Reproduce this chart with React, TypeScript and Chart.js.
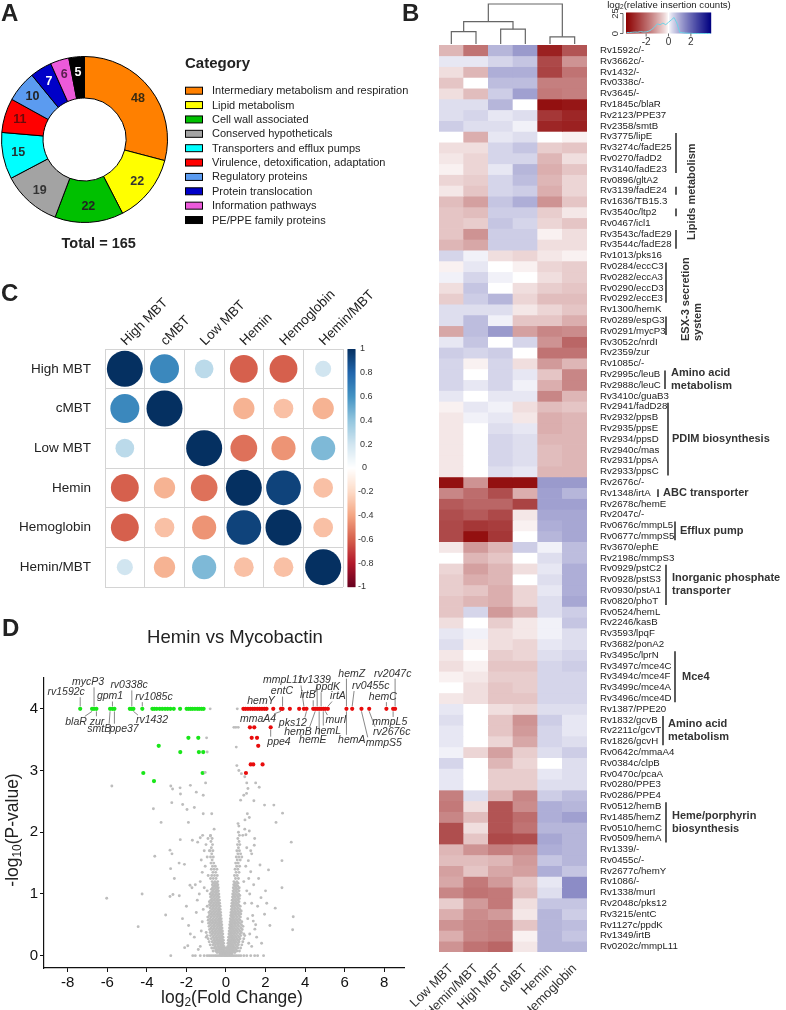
import React, { useEffect, useRef } from "react";
import { Chart, registerables } from "chart.js";

Chart.register(...registerables);

const FONT = "'Liberation Sans', Arial, Helvetica, sans-serif";

/* ---------------- Panel A data ---------------- */
const categoryNames = [
  "Intermediary metabolism and respiration",
  "Lipid metabolism",
  "Cell wall associated",
  "Conserved hypotheticals",
  "Transporters and efflux pumps",
  "Virulence, detoxification, adaptation",
  "Regulatory proteins",
  "Protein translocation",
  "Information pathways",
  "PE/PPE family proteins",
];
const categoryCounts = [48, 22, 22, 19, 15, 11, 10, 7, 6, 5];
const categoryColors = ["#ff8000", "#ffff00", "#00c000", "#a3a3a3", "#00ffff", "#ff0000", "#5b9bf0", "#0000c8", "#ec5ada", "#000000"];
const categoryLabelColors = ["#3a2a10", "#333333", "#222222", "#333333", "#223333", "#6a0a0a", "#222222", "#ffffff", "#5a2050", "#ffffff"];

/* ---------------- Panel B data ---------------- */
const heatColumns = ["Low MBT", "Hemin/MBT", "High MBT", "cMBT", "Hemin", "Hemoglobin"];
const heatGenes = [
  "Rv1592c/-", "Rv3662c/-", "Rv1432/-", "Rv0338c/-", "Rv3645/-", "Rv1845c/blaR", "Rv2123/PPE37", "Rv2358/smtB",
  "Rv3775/lipE", "Rv3274c/fadE25", "Rv0270/fadD2", "Rv3140/fadE23", "Rv0896/gltA2", "Rv3139/fadE24", "Rv1636/TB15.3", "Rv3540c/ltp2", "Rv0467/icl1", "Rv3543c/fadE29", "Rv3544c/fadE28",
  "Rv1013/pks16", "Rv0284/eccC3", "Rv0282/eccA3", "Rv0290/eccD3", "Rv0292/eccE3", "Rv1300/hemK", "Rv0289/espG3", "Rv0291/mycP3", "Rv3052c/nrdI", "Rv2359/zur", "Rv1085c/-", "Rv2995c/leuB", "Rv2988c/leuC", "Rv3410c/guaB3",
  "Rv2941/fadD28", "Rv2932/ppsB", "Rv2935/ppsE", "Rv2934/ppsD", "Rv2940c/mas", "Rv2931/ppsA", "Rv2933/ppsC",
  "Rv2676c/-", "Rv1348/irtA", "Rv2678c/hemE", "Rv2047c/-", "Rv0676c/mmpL5", "Rv0677c/mmpS5", "Rv3670/ephE", "Rv2198c/mmpS3",
  "Rv0929/pstC2", "Rv0928/pstS3", "Rv0930/pstA1", "Rv0820/phoT", "Rv0524/hemL", "Rv2246/kasB", "Rv3593/lpqF", "Rv3682/ponA2",
  "Rv3495c/lprN", "Rv3497c/mce4C", "Rv3494c/mce4F", "Rv3499c/mce4A", "Rv3496c/mce4D", "Rv1387/PPE20", "Rv1832/gcvB", "Rv2211c/gcvT", "Rv1826/gcvH",
  "Rv0642c/mmaA4", "Rv0384c/clpB", "Rv0470c/pcaA", "Rv0280/PPE3", "Rv0286/PPE4", "Rv0512/hemB", "Rv1485/hemZ", "Rv0510/hemC", "Rv0509/hemA",
  "Rv1339/-", "Rv0455c/-", "Rv2677c/hemY", "Rv1086/-", "Rv1338/murI", "Rv2048c/pks12", "Rv3215/entC", "Rv1127c/ppdK", "Rv1349/irtB", "Rv0202c/mmpL11",
];
// log2(relative insertion counts), columns follow heatColumns
const heatValues = [
  [-0.8, -1.8, 0.8, 1.2, -3.2, -2.3],
  [0.2, 0.2, 0.4, 0.6, -2.5, -1.3],
  [-0.3, -0.8, 0.9, 0.9, -2.6, -1.8],
  [-0.6, 0.0, 0.7, 0.7, -1.6, -1.6],
  [-0.3, -0.7, 0.5, 1.1, -1.7, -1.6],
  [0.3, 0.3, 0.8, 0.0, -3.5, -3.4],
  [0.3, 0.4, 0.2, 0.3, -2.8, -3.1],
  [0.5, 0.3, 0.3, 0.1, -3.1, -3.2],
  [0.0, -0.9, 0.2, 0.3, 0.0, -0.1],
  [-0.3, -0.3, 0.4, 0.6, -0.5, -0.6],
  [-0.2, -0.4, 0.4, 0.4, -0.8, -0.3],
  [-0.1, -0.4, 0.2, 0.8, -0.9, -0.6],
  [-0.4, -0.5, 0.4, 0.7, -0.8, -0.4],
  [-0.2, -0.6, 0.4, 0.5, -0.9, -0.4],
  [-0.7, -1.1, 0.6, 0.9, -1.3, -0.6],
  [-0.6, -0.7, 0.5, 0.5, -0.5, -0.2],
  [-0.6, -0.5, 0.6, 0.4, -0.4, -0.6],
  [-0.6, -1.3, 0.5, 0.5, -0.1, -0.3],
  [-0.8, -1.0, 0.5, 0.5, -0.3, -0.3],
  [0.4, 0.1, -0.3, -0.4, -0.2, -0.1],
  [-0.1, 0.2, 0.0, -0.1, -0.4, -0.5],
  [0.1, 0.4, 0.1, 0.0, -0.3, -0.5],
  [-0.3, 0.6, 0.0, -0.3, -0.5, -0.6],
  [-0.5, 0.5, 0.8, -0.4, -0.7, -0.7],
  [0.3, 0.3, 0.3, -0.2, -0.4, -0.6],
  [0.3, 0.7, 0.1, -0.6, -0.6, -0.9],
  [-1.0, 0.7, 1.2, -1.1, -1.5, -1.4],
  [0.2, 0.6, 0.0, 0.4, -1.3, -2.0],
  [0.5, 0.4, 0.5, 0.0, -1.8, -1.8],
  [0.4, -0.1, 0.4, -0.3, -1.2, -0.8],
  [0.4, 0.0, 0.4, 0.2, -0.6, -1.5],
  [0.4, 0.2, 0.4, 0.1, -0.9, -1.5],
  [0.2, 0.0, 0.2, 0.2, -1.5, -0.8],
  [-0.1, 0.2, 0.1, -0.3, -0.7, -0.6],
  [-0.2, 0.1, 0.2, -0.2, -0.9, -0.8],
  [-0.2, 0.0, 0.3, 0.2, -0.9, -0.8],
  [-0.2, 0.0, 0.4, 0.3, -0.8, -0.8],
  [-0.2, 0.0, 0.4, 0.3, -0.7, -0.8],
  [-0.2, 0.0, 0.4, 0.3, -0.7, -0.8],
  [-0.2, 0.0, 0.3, 0.2, -0.8, -0.8],
  [-3.5, -1.3, -3.5, -3.5, 1.2, 1.2],
  [-1.5, -1.9, -2.4, -0.9, 1.1, 0.8],
  [-2.2, -2.0, -2.0, -2.6, 1.1, 1.1],
  [-2.4, -2.2, -2.5, -0.2, 1.0, 1.0],
  [-2.5, -2.8, -2.7, -0.1, 0.9, 1.0],
  [-2.5, -3.5, -2.8, 0.0, 0.8, 1.0],
  [-0.2, -1.2, -0.8, 0.5, 0.1, 0.7],
  [0.0, -0.8, -0.6, 0.0, 0.3, 0.7],
  [-0.4, -1.1, -0.8, -0.3, 0.2, 0.9],
  [-0.5, -0.9, -0.8, 0.0, 0.3, 0.9],
  [-0.5, -0.6, -0.9, -0.4, 0.2, 0.9],
  [-0.6, -0.8, -0.9, -0.4, 0.3, 1.0],
  [-0.6, 0.4, -1.2, -0.8, 0.3, 0.5],
  [-0.3, 0.0, -0.5, -0.2, 0.1, 0.6],
  [0.2, 0.1, -0.3, -0.2, 0.1, 0.3],
  [0.3, -0.1, -0.3, -0.4, 0.2, 0.3],
  [-0.2, 0.0, -0.5, -0.4, 0.3, 0.4],
  [-0.3, -0.1, -0.6, -0.6, 0.4, 0.5],
  [-0.1, -0.2, -0.5, -0.5, 0.4, 0.4],
  [0.0, -0.3, -0.6, -0.5, 0.4, 0.4],
  [-0.2, -0.3, -0.6, -0.6, 0.4, 0.4],
  [0.2, 0.0, -0.3, -0.4, 0.3, 0.3],
  [0.3, 0.0, -0.6, -1.3, 0.5, 0.2],
  [0.2, 0.0, -0.6, -1.2, 0.4, 0.2],
  [0.2, 0.0, -0.4, -1.0, 0.4, 0.3],
  [0.1, -0.4, -1.1, -0.5, 0.3, 0.5],
  [0.4, 0.0, -0.8, -0.4, 0.0, 0.3],
  [0.2, 0.0, -0.5, -0.5, 0.2, 0.3],
  [0.2, 0.0, -0.5, -0.5, 0.3, 0.3],
  [-1.6, 0.3, -0.8, -1.5, 0.5, 0.7],
  [-1.7, -0.3, -2.3, -1.4, 0.9, 0.8],
  [-1.5, -0.7, -2.3, -1.9, 0.9, 1.1],
  [-2.4, -0.3, -2.3, -1.8, 0.8, 0.8],
  [-2.4, -0.6, -2.5, -2.4, 1.0, 0.8],
  [-0.8, -1.3, -1.6, -1.4, 0.9, 0.8],
  [-0.7, -0.7, -0.8, -1.2, 0.6, 0.8],
  [-1.1, -0.6, -1.0, -1.1, 0.9, 0.6],
  [-1.0, -1.7, -1.2, -0.6, 0.2, 1.4],
  [-1.5, -1.8, -1.7, -0.7, 0.3, 1.4],
  [-0.5, -1.2, -1.7, -0.3, 0.6, 0.6],
  [-0.9, -1.4, -1.2, -0.2, 0.8, 0.5],
  [-1.3, -1.5, -1.6, -0.6, 0.8, 0.7],
  [-0.9, -1.5, -1.6, -0.1, 0.8, 0.6],
  [-1.3, -1.8, -2.0, -0.2, 0.8, 0.8],
];
// histogram of all values shown in the colour key (bins from -3.75 to 3.75, step 0.25)
const histogramCounts = [1.2, 1.2, 1.5, 1.8, 1.6, 2.4, 1.8, 2.0, 3, 5, 8, 12, 11, 13, 11, 14, 17, 20, 13, 1.5, 1, 0.5, 0.3, 0.2, 0, 0, 0, 0, 0, 0, 0];
// column dendrogram: leaves 0..5, internal nodes 6..10
const dendroNodes = [
  { left: 0, right: 1, height: 0.31 },
  { left: 2, right: 3, height: 0.37 },
  { left: 4, right: 5, height: 0.18 },
  { left: 6, right: 7, height: 0.56 },
  { left: 9, right: 8, height: 1.0 },
];
const heatGroups = [
  { lines: ["Lipids metabolism"], rows: [[8, 11], [13, 13], [15, 15], [17, 18]], rotated: true },
  { lines: ["ESX-3 secretion", "system"], rows: [[20, 23], [25, 26]], rotated: true },
  { lines: ["Amino acid", "metabolism"], rows: [[30, 31]], rotated: false },
  { lines: ["PDIM biosynthesis"], rows: [[33, 39]], rotated: false },
  { lines: ["ABC transporter"], rows: [[41, 41]], rotated: false },
  { lines: ["Efflux pump"], rows: [[44, 45]], rotated: false },
  { lines: ["Inorganic phosphate", "transporter"], rows: [[48, 51]], rotated: false },
  { lines: ["Mce4"], rows: [[56, 60]], rotated: false },
  { lines: ["Amino acid", "metabolism"], rows: [[62, 64]], rotated: false },
  { lines: ["Heme/porphyrin", "biosynthesis"], rows: [[70, 73]], rotated: false },
];
// layout of the bracket annotations (absolute page x of bar / text)
const heatGroupLayout = [
  { barX: 676, textX: 692, startY: 240 },
  { barX: 666, textX: 686, startY: 341, lineGap: 12 },
  { barX: 665, textX: 671 },
  { barX: 668, textX: 672 },
  { barX: 658, textX: 663 },
  { barX: 675, textX: 680 },
  { barX: 666, textX: 672 },
  { barX: 675, textX: 682 },
  { barX: 663, textX: 668 },
  { barX: 666, textX: 672 },
];

/* ---------------- Panel C data ---------------- */
const corrLabels = ["High MBT", "cMBT", "Low MBT", "Hemin", "Hemoglobin", "Hemin/MBT"];
const corrMatrix = [
  [1.0, 0.65, 0.27, -0.6, -0.6, 0.2],
  [0.65, 1.0, 0.0, -0.35, -0.3, -0.35],
  [0.27, 0.0, 1.0, -0.55, -0.45, 0.45],
  [-0.6, -0.35, -0.55, 1.0, 0.93, -0.3],
  [-0.6, -0.3, -0.45, 0.93, 1.0, -0.3],
  [0.2, -0.35, 0.45, -0.3, -0.3, 1.0],
];
const corrTicks = [1, 0.8, 0.6, 0.4, 0.2, 0, -0.2, -0.4, -0.6, -0.8, -1];
const RDBU = ["#67001F", "#B2182B", "#D6604D", "#F4A582", "#FDDBC7", "#FFFFFF", "#D1E5F0", "#92C5DE", "#4393C3", "#2166AC", "#053061"];

/* ---------------- Panel D data ---------------- */
const volcanoXTicks = [-8, -6, -4, -2, 0, 2, 4, 6, 8];
const volcanoYTicks = [0, 1, 2, 3, 4];
// dense non-significant genes, grouped by -log10(P) level: [level, log2FC values]
const grayBands: [number, number[]][] = [
  [0.0, [-1.55, -1.3, -1.1, -0.95, -0.85, -0.75, -0.65, -0.55, -0.48, -0.4, -0.32, -0.25, -0.18, -0.1, -0.04, 0.02, 0.08, 0.15, 0.22, 0.3, 0.38, 0.46, 0.55, 0.65, 0.75, 0.9, 1.05, 1.25, 1.45]],
  [0.03, [-0.3, -0.2, -0.12, -0.06, 0.0, 0.06, 0.12, 0.2, 0.3]],
  [0.05, [-0.45, -0.33, -0.22, -0.12, -0.04, 0.04, 0.12, 0.22, 0.33, 0.45]],
  [0.075, [-0.65, -0.52, -0.44, -0.32, -0.22, -0.14, -0.05, 0.03, 0.11, 0.2, 0.31, 0.42, 0.55, 0.68]],
  [0.1, [-0.5, -0.38, -0.27, -0.17, -0.08, 0.07, 0.16, 0.26, 0.37, 0.5]],
  [0.125, [-0.72, -0.6, -0.48, -0.36, -0.25, -0.15, -0.06, 0.05, 0.14, 0.24, 0.35, 0.47, 0.6, 0.74]],
  [0.15, [-0.55, -0.42, -0.3, -0.2, -0.1, 0.09, 0.19, 0.29, 0.4, 0.55]],
  [0.175, [-0.8, -0.66, -0.53, -0.4, -0.27, -0.16, 0.15, 0.25, 0.36, 0.49, 0.63, 0.8]],
  [0.2, [-0.6, -0.46, -0.33, -0.22, -0.12, 0.1, 0.21, 0.32, 0.44, 0.6]],
  [0.225, [-0.85, -0.7, -0.55, -0.41, -0.29, -0.18, 0.16, 0.27, 0.39, 0.52, 0.66, 0.85]],
  [0.25, [-0.62, -0.48, -0.35, -0.24, -0.13, 0.12, 0.23, 0.34, 0.47, 0.63]],
  [0.275, [-0.9, -0.74, -0.58, -0.44, -0.31, -0.2, 0.18, 0.3, 0.42, 0.56, 0.71, 0.9]],
  [0.3, [-0.66, -0.52, -0.38, -0.26, -0.15, 0.13, 0.25, 0.37, 0.5, 0.66]],
  [0.325, [-0.95, -0.78, -0.62, -0.47, -0.33, -0.22, 0.2, 0.31, 0.44, 0.59, 0.75, 0.95]],
  [0.35, [-0.7, -0.55, -0.41, -0.28, -0.16, 0.15, 0.27, 0.39, 0.53, 0.7]],
  [0.375, [-1.0, -0.8, -0.64, -0.49, -0.35, -0.23, 0.21, 0.33, 0.46, 0.61, 0.78]],
  [0.4, [-0.72, -0.57, -0.43, -0.3, -0.18, 0.16, 0.28, 0.41, 0.55, 0.72]],
  [0.425, [-0.83, -0.67, -0.52, -0.37, -0.25, 0.23, 0.35, 0.49, 0.64, 0.82]],
  [0.45, [-0.75, -0.6, -0.45, -0.32, -0.2, 0.18, 0.3, 0.43, 0.58, 0.75]],
  [0.475, [-0.86, -0.69, -0.54, -0.39, -0.27, 0.24, 0.37, 0.51, 0.67, 0.86]],
  [0.5, [-0.78, -0.62, -0.47, -0.34, -0.21, 0.19, 0.32, 0.45, 0.6, 0.78]],
  [0.525, [-0.88, -0.71, -0.56, -0.41, -0.28, 0.26, 0.39, 0.53, 0.69]],
  [0.55, [-0.8, -0.64, -0.49, -0.35, -0.23, 0.21, 0.33, 0.47, 0.62, 0.8]],
  [0.575, [-0.9, -0.73, -0.57, -0.42, -0.3, 0.27, 0.4, 0.55, 0.71]],
  [0.6, [-0.82, -0.66, -0.51, -0.37, -0.24, 0.22, 0.35, 0.49, 0.64]],
  [0.625, [-0.92, -0.75, -0.59, -0.44, -0.31, 0.29, 0.42, 0.57, 0.73]],
  [0.65, [-0.84, -0.68, -0.53, -0.38, -0.26, 0.24, 0.36, 0.5, 0.66]],
  [0.675, [-0.77, -0.61, -0.46, -0.33, 0.3, 0.44, 0.59, 0.75]],
  [0.7, [-0.86, -0.7, -0.55, -0.4, -0.27, 0.25, 0.38, 0.52, 0.68]],
  [0.725, [-0.79, -0.63, -0.48, -0.35, 0.32, 0.46, 0.61, 0.77]],
  [0.75, [-0.72, -0.57, -0.42, -0.29, 0.27, 0.4, 0.54, 0.7]],
  [0.775, [-0.81, -0.65, -0.5, -0.36, 0.33, 0.47, 0.62]],
  [0.8, [-0.74, -0.59, -0.44, -0.3, 0.28, 0.41, 0.56, 0.72]],
  [0.825, [-0.83, -0.67, -0.52, -0.38, 0.35, 0.49, 0.64]],
  [0.85, [-0.76, -0.6, -0.45, -0.32, 0.3, 0.43, 0.58]],
  [0.875, [-0.84, -0.69, -0.53, -0.39, 0.37, 0.51, 0.66]],
  [0.9, [-0.77, -0.62, -0.47, -0.33, 0.31, 0.45, 0.6]],
  [0.925, [-0.7, -0.55, -0.41, 0.38, 0.53, 0.68]],
  [0.95, [-0.78, -0.63, -0.48, -0.35, 0.33, 0.46, 0.62]],
  [0.975, [-0.72, -0.57, -0.42, 0.4, 0.55, 0.7]],
  [1.0, [-0.8, -0.65, -0.5, -0.36, 0.34, 0.48, 0.64]],
  [1.025, [-0.73, -0.58, -0.44, 0.41, 0.56]],
  [1.05, [-0.66, -0.51, -0.38, 0.36, 0.5, 0.66]],
  [1.075, [-0.74, -0.6, -0.45, 0.43, 0.58]],
  [1.1, [-0.68, -0.53, -0.39, 0.37, 0.51, 0.67]],
  [1.125, [-0.62, -0.47, 0.45, 0.6]],
  [1.15, [-0.69, -0.54, -0.41, 0.39, 0.53]],
  [1.175, [-0.63, -0.48, 0.46, 0.61]],
  [1.2, [-0.7, -0.56, -0.42, 0.4, 0.55]],
  [1.25, [-0.78, -0.64, -0.5, 0.48, 0.63]],
  [1.3, [-0.72, -0.58, -0.44, 0.43, 0.57]],
  [1.35, [-0.66, -0.52, 0.51, 0.66]],
  [1.4, [-0.74, -0.6, -0.46, 0.46, 0.6]],
  [1.45, [-0.68, -0.54, 0.54, 0.69]],
  [1.5, [-0.76, -0.62, 0.49, 0.62]],
  [1.55, [-0.7, 0.57, 0.72]],
  [1.6, [-0.78, -0.64, 0.52, 0.65]],
  [1.65, [-0.72, 0.6, 0.74]],
  [1.7, [-0.8, -0.66, 0.55, 0.68]],
  [1.75, [-0.74, 0.63]],
  [1.8, [-0.68, 0.58, 0.7]],
  [1.85, [-0.76, 0.66]],
  [1.9, [-0.7, 0.6]],
  [1.95, [-0.78, 0.68]],
  [2.0, [0.63]],
  [2.1, [0.65]],
];
const grayScattered: [number, number][] = [
  [-5.77, 2.75], [-2.79, 2.75], [-2.32, 2.72], [-1.8, 2.76], [-1.03, 2.8], [-3.67, 2.38], [-2.74, 2.48], [-2.19, 2.45], [-1.97, 2.37], [-1.6, 2.4],
  [-3.28, 2.16], [-1.9, 2.16], [-1.15, 2.3], [-0.72, 2.3], [-2.83, 1.71], [-2.73, 1.65], [-3.6, 1.61], [-2.37, 1.5], [-2.1, 1.48], [-2.8, 1.41],
  [-2.61, 1.25], [-2.31, 1.88], [-1.7, 1.87], [-1.43, 1.84], [-1.3, 1.91], [-1.18, 1.95], [-0.91, 1.9], [-0.79, 1.94], [-1.01, 1.8], [-0.84, 1.7],
  [-6.03, 0.93], [-4.24, 1.0], [-4.44, 0.47], [-3.05, 0.66], [-2.83, 0.96], [-2.68, 0.99], [-2.36, 0.97], [-1.82, 1.14], [-1.72, 1.1], [-1.89, 0.49],
  [-2.09, 0.13], [-1.93, 0.16], [-2.79, 0], [-1.68, 0],
  [0.61, 2.14], [0.96, 2.2], [1.08, 2.3], [1.18, 2.24], [1.04, 2.63], [1.11, 2.71], [0.74, 2.52], [1.68, 2.73], [1.41, 2.51], [1.95, 2.44],
  [2.42, 2.44], [2.53, 2.16], [2.86, 2.31], [3.3, 1.84], [2.83, 1.54], [2.15, 1.39], [1.72, 1.47], [1.18, 2.02], [1.43, 1.79], [1.3, 1.65],
  [1.13, 1.54], [1.01, 1.96], [1.25, 1.36], [1.65, 1.25], [1.77, 0.94], [2.06, 0.85], [2.49, 0.77], [2.83, 1.1], [3.4, 0.63], [3.37, 0.42],
  [2.22, 0.49], [1.95, 0.67], [1.38, 0.56], [1.46, 0.43], [1.9, 0], [1.6, 0],
  [0.57, 4], [-0.8, 4], [0.4, 3.7], [0.5, 3.7], [0.62, 3.7], [-0.98, 3.53], [0.52, 3.38], [-0.95, 3.3], [-1.05, 2.97], [0.55, 3.08],
  [0.65, 3.0], [0.78, 2.95], [0.95, 2.9], [1.05, 2.8], [-2.7, 2.7], [-2.3, 2.62], [-1.5, 2.65], [-1.15, 2.6], [0.9, 2.6], [1.5, 2.8],
  [-1.0, 0.3], [-1.2, 0.55], [-0.95, 0.8], [-1.1, 1.1], [-1.3, 1.2], [-1.05, 1.45], [-0.9, 1.3], [0.9, 0.35], [1.1, 0.6], [0.95, 0.85],
  [1.2, 1.0], [0.9, 1.2], [1.0, 1.45], [1.15, 0.2], [-1.3, 0.15], [0.8, 1.6], [-0.95, 1.6], [1.3, 0.85], [-1.5, 0.7], [1.5, 0.5],
  [-0.6, 2.05], [0.85, 1.95],
  [-1.4, 0.1], [-1.6, 0.3], [-1.25, 0.4], [-1.45, 0.9], [-1.15, 0.75], [-1.35, 1.0], [-1.2, 1.35], [-1.55, 1.15], [-0.95, 1.05], [-1.1, 1.7],
  [-1.25, 1.55], [1.3, 0.15], [1.55, 0.3], [1.2, 0.35], [1.35, 0.65], [1.6, 0.8], [1.05, 1.05], [1.4, 1.15], [1.15, 1.25], [1.25, 1.7],
  [1.05, 1.75], [0.95, 2.05], [1.45, 1.9], [-1.8, 0.35], [1.8, 0.2], [2.0, 1.05], [-2.0, 0.8], [-2.2, 0.6],
];
const greenTopFC = [-7.37, -6.77, -6.67, -6.55, -5.86, -5.74, -5.64, -4.86, -4.76, -4.68, -4.23, -3.72, -3.62, -3.5, -3.35, -3.22, -3.08, -2.95, -2.81, -2.64, -2.32, -1.99, -1.89, -1.79, -1.69, -1.57, -1.45, -1.35, -1.23, -1.13];
const greenOther: [number, number][] = [[-1.9, 3.53], [-1.4, 3.53], [-3.4, 3.4], [-2.31, 3.3], [-1.37, 3.3], [-1.15, 3.3], [-4.18, 2.96], [-1.18, 2.96], [-3.64, 2.83]];
const redTopFC = [0.88, 0.99, 1.11, 1.23, 1.35, 1.46, 1.58, 1.7, 1.82, 1.94, 2.05, 2.39, 2.78, 2.86, 3.23, 3.7, 3.94, 4.07, 4.41, 4.51, 4.61, 4.71, 4.81, 4.92, 5.02, 5.15, 6.09, 6.38, 6.85, 7.24, 8.11, 8.45, 8.55];
const redOther: [number, number][] = [[1.21, 3.7], [1.43, 3.7], [2.26, 3.7], [1.3, 3.53], [1.57, 3.53], [1.63, 3.4], [1.25, 3.1], [1.38, 3.1], [1.85, 3.1], [1.01, 2.96]];
const TOP_P = 4;
// [gene, point log2FC, point -log10P, label log2FC, label -log10P]
const volcanoLabels: [string, number, number, number, number][] = [
  ["rv1592c", -7.37, 4, -8.08, 4.27],
  ["mycP3", -6.67, 4, -6.97, 4.43],
  ["gpm1", -5.74, 4, -5.86, 4.2],
  ["rv0338c", -4.76, 4, -4.9, 4.38],
  ["rv1085c", -4.23, 4, -3.64, 4.19],
  ["blaR", -6.77, 4, -7.58, 3.79],
  ["zur", -6.55, 4, -6.52, 3.79],
  ["smtB", -5.86, 4, -6.41, 3.67],
  ["ppe37", -5.64, 4, -5.15, 3.67],
  ["rv1432", -4.68, 4, -3.74, 3.81],
  ["hemY", 2.05, 4, 1.77, 4.12],
  ["mmpL11", 3.94, 4, 2.88, 4.46],
  ["entC", 2.86, 4, 2.83, 4.28],
  ["irtB", 4.41, 4, 4.14, 4.22],
  ["rv1339", 4.61, 4, 4.49, 4.46],
  ["ppdK", 4.81, 4, 5.15, 4.35],
  ["irtA", 5.15, 4, 5.66, 4.2],
  ["hemZ", 6.09, 4, 6.36, 4.57],
  ["rv0455c", 6.38, 4, 7.32, 4.37],
  ["hemC", 8.11, 4, 7.93, 4.19],
  ["rv2047c", 8.55, 4, 8.43, 4.57],
  ["mmaA4", 2.78, 4, 1.62, 3.83],
  ["pks12", 4.07, 4, 3.38, 3.77],
  ["hemB", 4.51, 4, 3.64, 3.62],
  ["hemE", 4.71, 4, 4.39, 3.49],
  ["hemL", 4.92, 4, 5.15, 3.64],
  ["murI", 5.02, 4, 5.56, 3.81],
  ["hemA", 6.09, 4, 6.36, 3.49],
  ["mmpS5", 6.85, 4, 7.98, 3.45],
  ["rv2676c", 7.24, 4, 8.38, 3.62],
  ["mmpL5", 8.45, 4, 8.28, 3.78],
  ["ppe4", 2.26, 3.7, 2.68, 3.46],
];

/* ---------------- helpers ---------------- */
function heatColor(v: number) {
  const t = Math.pow(Math.min(Math.abs(v) / 3.8, 1), 0.8);
  let r, g, b;
  if (v < 0) {
    r = 255 + (140 - 255) * t; g = 255 * (1 - t); b = 255 * (1 - t);
  } else {
    r = 255 * (1 - t); g = 255 * (1 - t); b = 255 + (128 - 255) * t;
  }
  return `rgb(${Math.round(r)},${Math.round(g)},${Math.round(b)})`;
}
function hexToRgb(h: string) {
  return [parseInt(h.slice(1, 3), 16), parseInt(h.slice(3, 5), 16), parseInt(h.slice(5, 7), 16)];
}
function corrColor(v: number) {
  const pos = Math.max(0, Math.min(10, ((v + 1) / 2) * 10));
  const i = Math.min(9, Math.floor(pos));
  const f = pos - i;
  const a = hexToRgb(RDBU[i]);
  const b = hexToRgb(RDBU[i + 1]);
  return `rgb(${a.map((c, k) => Math.round(c + (b[k] - c) * f)).join(",")})`;
}
function drawSubText(ctx: CanvasRenderingContext2D, parts: [string, boolean][], size: number, cx: number, cy: number) {
  const subSize = size * 0.68;
  let total = 0;
  parts.forEach(([t, sub]) => {
    ctx.font = `${sub ? subSize : size}px ${FONT}`;
    total += ctx.measureText(t).width;
  });
  let x = cx - total / 2;
  ctx.textAlign = "left";
  ctx.textBaseline = "middle";
  parts.forEach(([t, sub]) => {
    ctx.font = `${sub ? subSize : size}px ${FONT}`;
    ctx.fillText(t, x, sub ? cy + size * 0.28 : cy);
    x += ctx.measureText(t).width;
  });
}

const B_LEFT = 395;

export default function App() {
  const refA = useRef<HTMLCanvasElement>(null);
  const refB = useRef<HTMLCanvasElement>(null);
  const refC = useRef<HTMLCanvasElement>(null);
  const refD = useRef<HTMLCanvasElement>(null);

  useEffect(() => {
    const charts: Chart[] = [];

    /* ---------- A: doughnut ---------- */
    const donutDecor = {
      id: "donutDecor",
      afterDraw(chart: any) {
        const ctx = chart.ctx as CanvasRenderingContext2D;
        const meta = chart.getDatasetMeta(0);
        ctx.save();
        ctx.font = `bold 12.5px ${FONT}`;
        ctx.textAlign = "center";
        ctx.textBaseline = "middle";
        meta.data.forEach((arc: any, i: number) => {
          const p = arc.getProps(["x", "y", "startAngle", "endAngle", "innerRadius", "outerRadius"], true);
          const mid = (p.startAngle + p.endAngle) / 2;
          const r = p.innerRadius + 0.63 * (p.outerRadius - p.innerRadius);
          ctx.fillStyle = categoryLabelColors[i];
          ctx.fillText(String(categoryCounts[i]), p.x + Math.cos(mid) * r, p.y + Math.sin(mid) * r);
        });
        ctx.fillStyle = "#222";
        ctx.textAlign = "left";
        ctx.textBaseline = "alphabetic";
        ctx.font = `bold 24px ${FONT}`;
        ctx.fillText("A", 1, 21);
        ctx.font = `bold 15px ${FONT}`;
        ctx.fillText("Category", 185, 68);
        ctx.font = `11px ${FONT}`;
        categoryNames.forEach((n, i) => {
          const y = 90.7 + i * 14.37;
          ctx.fillStyle = categoryColors[i];
          ctx.fillRect(185.5, y - 3.5, 17, 7);
          ctx.strokeStyle = "#000";
          ctx.lineWidth = 1;
          ctx.strokeRect(185.5, y - 3.5, 17, 7);
          ctx.fillStyle = "#222";
          ctx.textBaseline = "middle";
          ctx.fillText(n, 212, y + 0.5);
        });
        const total = categoryCounts.reduce((s, v) => s + v, 0);
        ctx.font = `bold 14.5px ${FONT}`;
        ctx.textAlign = "center";
        ctx.fillText(`Total = ${total}`, 98.7, 244);
        ctx.restore();
      },
    };
    charts.push(new Chart(refA.current!, {
      type: "doughnut",
      data: {
        labels: categoryNames,
        datasets: [{ data: categoryCounts, backgroundColor: categoryColors, borderColor: "#000", borderWidth: 1 }],
      },
      options: {
        responsive: false,
        animation: false,
        cutout: "50%",
        layout: { padding: { left: 1, top: 56, right: 242, bottom: 47 } },
        plugins: { legend: { display: false }, tooltip: { enabled: false } },
      },
      plugins: [donutDecor],
    } as any));

    /* ---------- B: heatmap ---------- */
    const heatDecor = {
      id: "heatDecor",
      afterDraw(chart: any) {
        const ctx = chart.ctx as CanvasRenderingContext2D;
        const xs = chart.scales.x;
        const ys = chart.scales.yl;
        const area = chart.chartArea;
        ctx.save();
        ctx.fillStyle = "#222";
        ctx.font = `bold 24px ${FONT}`;
        ctx.textAlign = "left";
        ctx.textBaseline = "alphabetic";
        ctx.fillText("B", 402 - B_LEFT, 21);
        // dendrogram
        const nodeX: number[] = heatColumns.map((_, j) => xs.getPixelForValue(j));
        const nodeH: number[] = heatColumns.map(() => 0);
        const base = area.top - 1;
        const hy = (h: number) => base - h * (base - 4);
        ctx.strokeStyle = "#666";
        ctx.lineWidth = 1.2;
        dendroNodes.forEach((n) => {
          const xl = nodeX[n.left], xr = nodeX[n.right];
          ctx.beginPath();
          ctx.moveTo(xl, hy(nodeH[n.left]));
          ctx.lineTo(xl, hy(n.height));
          ctx.lineTo(xr, hy(n.height));
          ctx.lineTo(xr, hy(nodeH[n.right]));
          ctx.stroke();
          nodeX.push((xl + xr) / 2);
          nodeH.push(n.height);
        });
        // colour key
        const kx0 = 626 - B_LEFT, kx1 = 711 - B_LEFT, ky0 = 12.5, ky1 = 33.5;
        const vmin = -3.8, vmax = 3.8;
        const vx = (v: number) => kx0 + ((v - vmin) / (vmax - vmin)) * (kx1 - kx0);
        for (let px = kx0; px < kx1; px += 1) {
          const v = vmin + ((px + 0.5 - kx0) / (kx1 - kx0)) * (vmax - vmin);
          ctx.fillStyle = heatColor(v);
          ctx.fillRect(px, ky0, 1.2, ky1 - ky0);
        }
        const cy = (c: number) => ky1 - (c / 25) * (ky1 - ky0 - 1);
        ctx.strokeStyle = "#6fd3e6";
        ctx.lineWidth = 1;
        ctx.beginPath();
        histogramCounts.forEach((c, i) => {
          const v = -3.75 + i * 0.25;
          const X = vx(v), Y = cy(c);
          if (i === 0) ctx.moveTo(X, Y); else ctx.lineTo(X, Y);
        });
        ctx.stroke();
        ctx.strokeStyle = "#444";
        ctx.lineWidth = 0.8;
        ctx.beginPath();
        ctx.moveTo(kx0 - 3, cy(0));
        ctx.lineTo(kx0 - 3, cy(25));
        ctx.moveTo(kx0 - 6, cy(0));
        ctx.lineTo(kx0 - 3, cy(0));
        ctx.moveTo(kx0 - 6, cy(25));
        ctx.lineTo(kx0 - 3, cy(25));
        ctx.stroke();
        ctx.fillStyle = "#333";
        ctx.font = `9.5px ${FONT}`;
        ctx.textAlign = "center";
        ctx.textBaseline = "middle";
        [[0, "0"], [25, "25"]].forEach(([c, t]) => {
          ctx.save();
          ctx.translate(kx0 - 11, cy(c as number));
          ctx.rotate(-Math.PI / 2);
          ctx.fillText(t as string, 0, 0);
          ctx.restore();
        });
        ctx.font = `10px ${FONT}`;
        [-2, 0, 2].forEach((v) => {
          ctx.beginPath();
          ctx.moveTo(vx(v), ky1);
          ctx.lineTo(vx(v), ky1 + 3);
          ctx.stroke();
          ctx.fillText(String(v), vx(v), 42);
        });
        ctx.fillStyle = "#222";
        drawSubText(ctx, [["log", false], ["2", true], ["(relative insertion counts)", false]], 9.6, 669 - B_LEFT, 5);
        // group brackets
        const rowTop = (i: number) => ys.getPixelForValue(i);
        heatGroups.forEach((g, gi) => {
          const lay = heatGroupLayout[gi] as any;
          const bx = lay.barX - B_LEFT;
          ctx.strokeStyle = "#333";
          ctx.lineWidth = 1.6;
          g.rows.forEach(([a, b]) => {
            ctx.beginPath();
            ctx.moveTo(bx, rowTop(a) + 1.5);
            ctx.lineTo(bx, rowTop(b + 1) - 1.5);
            ctx.stroke();
          });
          ctx.fillStyle = "#333";
          ctx.font = `bold 11px ${FONT}`;
          const first = g.rows[0][0];
          const last = g.rows[g.rows.length - 1][1] + 1;
          if (g.rotated) {
            g.lines.forEach((ln, li) => {
              ctx.save();
              ctx.translate(lay.textX - B_LEFT + li * (lay.lineGap || 12), lay.startY);
              ctx.rotate(-Math.PI / 2);
              ctx.textAlign = "left";
              ctx.textBaseline = "middle";
              ctx.fillText(ln, 0, 0);
              ctx.restore();
            });
          } else {
            const mid = (rowTop(first) + rowTop(last)) / 2;
            const lh = 13;
            ctx.textAlign = "left";
            ctx.textBaseline = "middle";
            g.lines.forEach((ln, li) => {
              const y = mid + (li - (g.lines.length - 1) / 2) * lh;
              ctx.fillText(ln, lay.textX - B_LEFT, y);
            });
          }
        });
        ctx.restore();
      },
    };
    charts.push(new Chart(refB.current!, {
      type: "bar",
      data: {
        labels: heatColumns,
        datasets: heatGenes.map((g, i) => ({
          label: g,
          data: heatColumns.map(() => [i, i + 1]),
          backgroundColor: heatValues[i].map(heatColor),
          borderWidth: 0,
          categoryPercentage: 1,
          barPercentage: 1,
          grouped: false,
          xAxisID: "x",
          yAxisID: "y",
        })),
      },
      options: {
        responsive: false,
        animation: false,
        layout: { padding: { left: 439 - B_LEFT, top: 45, right: 0, bottom: 0 } },
        plugins: { legend: { display: false }, tooltip: { enabled: false } },
        scales: {
          x: {
            position: "bottom",
            grid: { display: false },
            border: { display: false },
            ticks: { minRotation: 45, maxRotation: 45, autoSkip: false, padding: 1, color: "#333", font: { size: 13, family: FONT } },
            afterFit: (s: any) => { s.height = 58; s.paddingLeft = 0; s.paddingRight = 0; },
          },
          y: { display: false, min: 0, max: heatGenes.length, reverse: true },
          yl: {
            position: "right",
            type: "linear",
            min: 0,
            max: heatGenes.length,
            reverse: true,
            grid: { display: false },
            border: { display: false },
            ticks: {
              autoSkip: false,
              padding: 5,
              color: "#222",
              font: { size: 9.7, family: FONT },
              callback: (_v: any, i: number) => heatGenes[i],
            },
            afterBuildTicks: (s: any) => { s.ticks = heatGenes.map((_, i) => ({ value: i + 0.5 })); },
            afterFit: (s: any) => { s.width = 786 - 587; s.paddingTop = 0; s.paddingBottom = 0; },
          },
        },
      },
      plugins: [heatDecor],
    } as any));

    /* ---------- C: correlation plot ---------- */
    const corrDecor = {
      id: "corrDecor",
      afterDraw(chart: any) {
        const ctx = chart.ctx as CanvasRenderingContext2D;
        const area = chart.chartArea;
        ctx.save();
        ctx.fillStyle = "#222";
        ctx.font = `bold 24px ${FONT}`;
        ctx.textAlign = "left";
        ctx.textBaseline = "alphabetic";
        ctx.fillText("C", 1, 21);
        const x0 = 347.5, x1 = 355.5;
        const y0 = area.top, y1 = area.bottom;
        for (let py = y0; py < y1; py += 1) {
          const v = 1 - ((py + 0.5 - y0) / (y1 - y0)) * 2;
          ctx.fillStyle = corrColor(v);
          ctx.fillRect(x0, py, x1 - x0, 1.2);
        }
        ctx.fillStyle = "#333";
        ctx.font = `9px ${FONT}`;
        ctx.textBaseline = "middle";
        corrTicks.forEach((v) => {
          const y = y0 + ((1 - v) / 2) * (y1 - y0);
          ctx.fillText(String(v), v < 0 ? 358 : v === 0 ? 362 : 360, y);
        });
        ctx.restore();
      },
    };
    const corrPoints: any[] = [];
    const corrColors: string[] = [];
    corrMatrix.forEach((row, i) => row.forEach((v, j) => {
      corrPoints.push({ x: j, y: i, r: 18 * Math.sqrt(Math.abs(v)) });
      corrColors.push(corrColor(v));
    }));
    const bounds = [-0.5, 0.5, 1.5, 2.5, 3.5, 4.5, 5.5];
    charts.push(new Chart(refC.current!, {
      type: "bubble",
      data: { datasets: [{ data: corrPoints, backgroundColor: corrColors, borderWidth: 0, hoverRadius: 0, xAxisID: "x", yAxisID: "y" }] },
      options: {
        responsive: false,
        animation: false,
        layout: { padding: { left: 0, top: 0, right: 430 - 343, bottom: 330 - 307 } },
        plugins: { legend: { display: false }, tooltip: { enabled: false } },
        scales: {
          x: {
            type: "linear", position: "top", min: -0.5, max: 5.5,
            grid: { display: false },
            border: { display: false },
            ticks: {
              minRotation: 45, maxRotation: 45, autoSkip: false, padding: -8, labelOffset: 10, color: "#222",
              font: { size: 13.5, family: FONT },
              callback: (_v: any, i: number) => corrLabels[i],
            },
            afterBuildTicks: (s: any) => { s.ticks = corrLabels.map((_, i) => ({ value: i })); },
            afterFit: (s: any) => { s.height = 69; s.paddingLeft = 0; s.paddingRight = 0; },
          },
          y: {
            type: "linear", position: "left", min: -0.5, max: 5.5, reverse: true,
            grid: { display: false },
            border: { display: false },
            ticks: {
              autoSkip: false, padding: 6, color: "#222",
              font: { size: 13.5, family: FONT },
              callback: (_v: any, i: number) => corrLabels[i],
            },
            afterBuildTicks: (s: any) => { s.ticks = corrLabels.map((_, i) => ({ value: i })); },
            afterFit: (s: any) => { s.width = 105; s.paddingTop = 0; s.paddingBottom = 0; },
          },
          xg: {
            type: "linear", position: "bottom", min: -0.5, max: 5.5,
            grid: { color: "#d4d4d4", drawTicks: false },
            border: { display: false },
            ticks: { display: false },
            afterBuildTicks: (s: any) => { s.ticks = bounds.map((v) => ({ value: v })); },
            afterFit: (s: any) => { s.height = 0; },
          },
          yg: {
            type: "linear", position: "right", min: -0.5, max: 5.5,
            grid: { color: "#d4d4d4", drawTicks: false },
            border: { display: false },
            ticks: { display: false },
            afterBuildTicks: (s: any) => { s.ticks = bounds.map((v) => ({ value: v })); },
            afterFit: (s: any) => { s.width = 0; },
          },
        },
      },
      plugins: [corrDecor],
    } as any));

    /* ---------- D: volcano ---------- */
    const grayData: any[] = [];
    grayBands.forEach(([y, xsArr]) => xsArr.forEach((x) => grayData.push({ x, y })));
    grayScattered.forEach(([x, y]) => grayData.push({ x, y }));
    const greenData = greenTopFC.map((x) => ({ x, y: TOP_P })).concat(greenOther.map(([x, y]) => ({ x, y })));
    const redData = redTopFC.map((x) => ({ x, y: TOP_P })).concat(redOther.map(([x, y]) => ({ x, y })));
    const volcanoDecor = {
      id: "volcanoDecor",
      afterDraw(chart: any) {
        const ctx = chart.ctx as CanvasRenderingContext2D;
        const { x, y } = chart.scales;
        ctx.save();
        ctx.font = `italic 10.5px ${FONT}`;
        ctx.textAlign = "center";
        ctx.textBaseline = "middle";
        volcanoLabels.forEach(([name, px, py, tx, ty]) => {
          const X = x.getPixelForValue(px), Y = y.getPixelForValue(py);
          const TX = x.getPixelForValue(tx), TY = y.getPixelForValue(ty);
          const w = ctx.measureText(name).width;
          const above = TY < Y;
          const sy = above ? TY + 5 : TY - 5.5;
          const sx = Math.max(TX - w / 2 + 2, Math.min(TX + w / 2 - 2, X));
          ctx.strokeStyle = "#555";
          ctx.lineWidth = 0.7;
          ctx.beginPath();
          ctx.moveTo(sx, sy);
          ctx.lineTo(X, Y + (above ? -2.5 : 2.5));
          ctx.stroke();
          ctx.fillStyle = "#333";
          ctx.fillText(name, TX, TY);
        });
        ctx.fillStyle = "#222";
        ctx.font = `bold 24px ${FONT}`;
        ctx.textAlign = "left";
        ctx.textBaseline = "alphabetic";
        ctx.fillText("D", 2, 36);
        ctx.font = `18.5px ${FONT}`;
        ctx.textAlign = "center";
        ctx.textBaseline = "middle";
        ctx.fillText("Hemin vs Mycobactin", 235, 38);
        drawSubText(ctx, [["log", false], ["2", true], ["(Fold Change)", false]], 17.5, 232, 398);
        ctx.save();
        ctx.translate(13, 230);
        ctx.rotate(-Math.PI / 2);
        drawSubText(ctx, [["-log", false], ["10", true], ["(P-value)", false]], 17.5, 0, 0);
        ctx.restore();
        ctx.restore();
      },
    };
    charts.push(new Chart(refD.current!, {
      type: "scatter",
      data: {
        datasets: [
          { data: grayData, backgroundColor: "#bdbdbd", borderWidth: 0, pointRadius: 1.45 },
          { data: greenData, backgroundColor: "#19e619", borderWidth: 0, pointRadius: 2.1 },
          { data: redData, backgroundColor: "#e80c0c", borderWidth: 0, pointRadius: 2.1 },
        ],
      },
      options: {
        responsive: false,
        animation: false,
        layout: { padding: { left: 0, top: 78, right: 430 - 404, bottom: 0 } },
        plugins: { legend: { display: false }, tooltip: { enabled: false } },
        scales: {
          x: {
            type: "linear", min: -9.2, max: 9,
            grid: { drawOnChartArea: false, drawTicks: true, tickLength: 4, color: "#111" },
            border: { color: "#111", width: 1.2 },
            ticks: { padding: 2, color: "#111", font: { size: 15, family: FONT } },
            afterBuildTicks: (s: any) => { s.ticks = volcanoXTicks.map((v) => ({ value: v })); },
            afterFit: (s: any) => { s.height = 410 - 368; s.paddingLeft = 0; s.paddingRight = 0; },
          },
          y: {
            type: "linear", min: -0.2, max: 4.5,
            grid: { drawOnChartArea: false, drawTicks: true, tickLength: 4, color: "#111" },
            border: { color: "#111", width: 1.2 },
            ticks: { padding: 2, color: "#111", font: { size: 15, family: FONT } },
            afterBuildTicks: (s: any) => { s.ticks = volcanoYTicks.map((v) => ({ value: v })); },
            afterFit: (s: any) => { s.width = 44; s.paddingTop = 0; s.paddingBottom = 0; },
          },
        },
      },
      plugins: [volcanoDecor],
    } as any));

    return () => charts.forEach((c) => c.destroy());
  }, []);

  const abs = (left: number, top: number): React.CSSProperties => ({ position: "absolute", left, top });
  return (
    <div style={{ position: "absolute", left: 0, top: 0, width: 786, height: 1010, background: "#fff", overflow: "hidden" }}>
      <canvas ref={refA} width={410} height={270} style={abs(0, 0)} />
      <canvas ref={refC} width={430} height={330} style={abs(0, 280)} />
      <canvas ref={refD} width={430} height={410} style={abs(0, 600)} />
      <canvas ref={refB} width={786 - B_LEFT} height={1010} style={abs(B_LEFT, 0)} />
    </div>
  );
}
